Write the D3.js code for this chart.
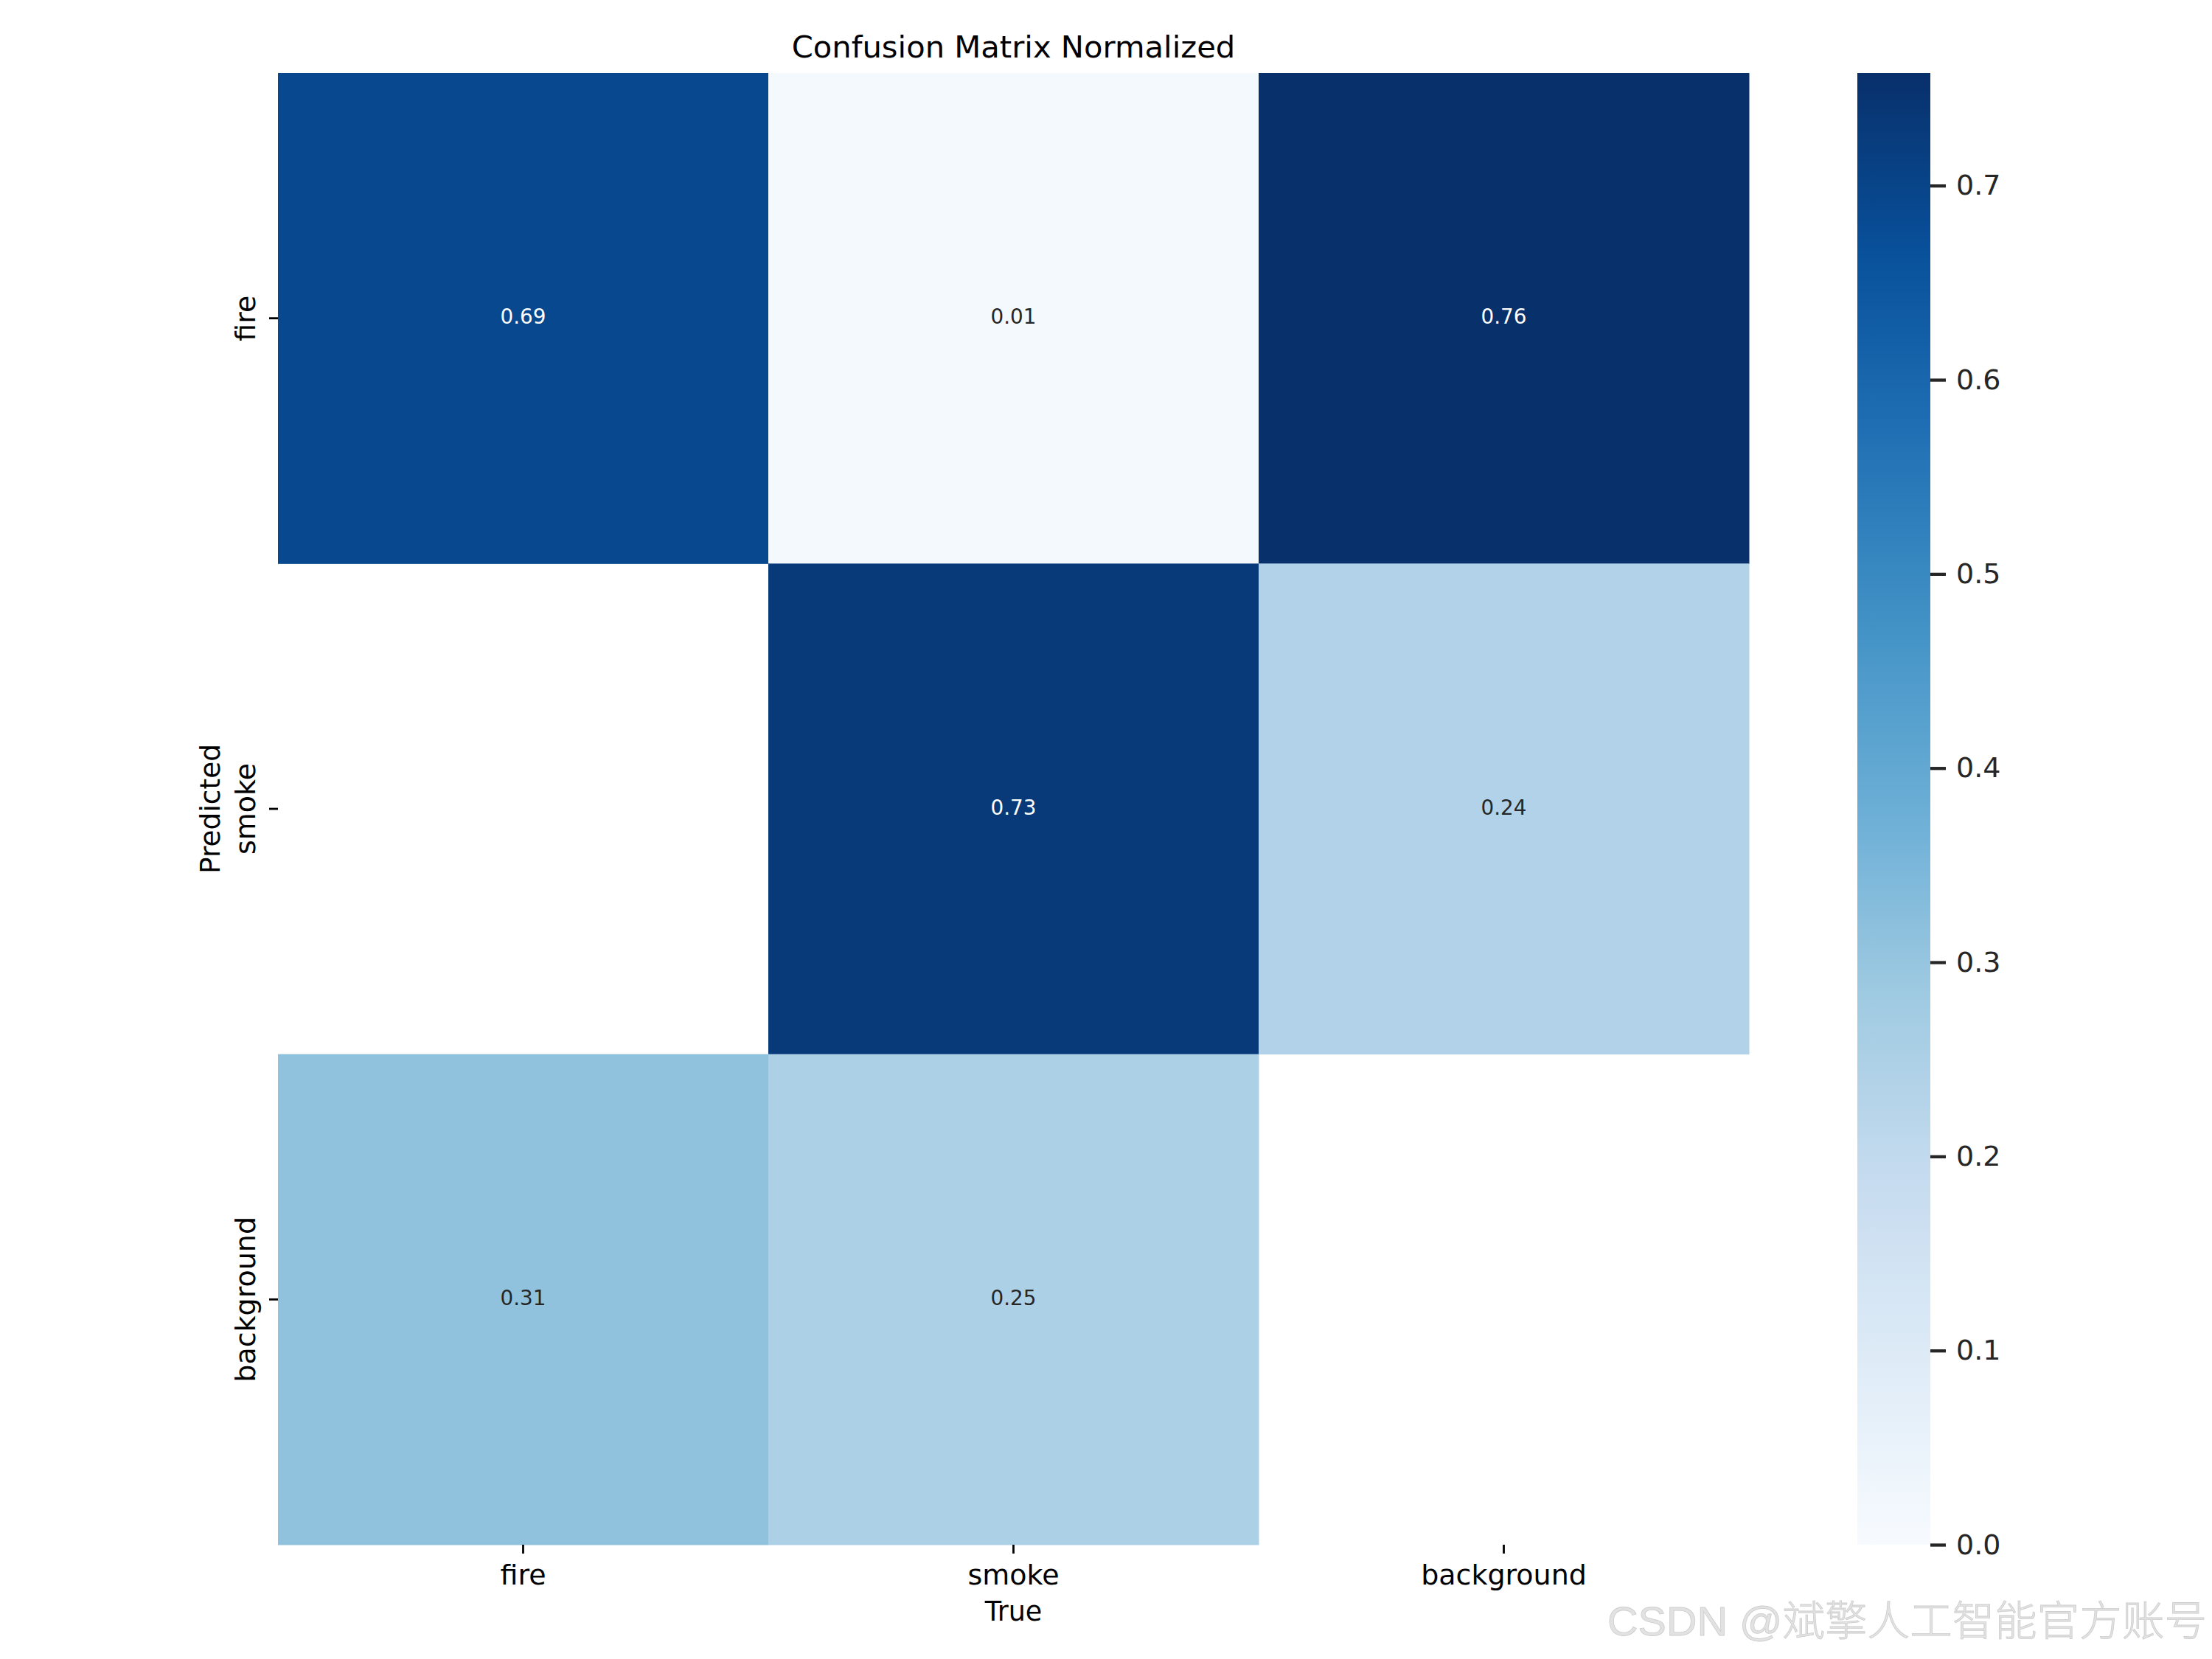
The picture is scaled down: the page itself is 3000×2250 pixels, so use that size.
<!DOCTYPE html>
<html>
<head>
<meta charset="utf-8">
<script src="https://cdn.jsdelivr.net/npm/d3@7"></script>
<style>
  body { margin: 0; background: #fff; }
  svg { display: block; }
</style>
</head>
<body>
<script>
// classes shared by both axes (rows = predicted, columns = true)
const classes = ["fire", "smoke", "background"];

// one row per predicted class, null = masked (drawn blank)
const predFire = [0.69, 0.01, 0.758];
const predSmoke = [null, 0.73, 0.24];
const predBackground = [0.31, 0.25, null];

const cbarTicks = [0.0, 0.1, 0.2, 0.3, 0.4, 0.5, 0.6, 0.7];

// matplotlib "Blues" colour stops
const blues = ["#f7fbff", "#deebf7", "#c6dbef", "#9ecae1", "#6baed6",
               "#4292c6", "#2171b5", "#08519c", "#08306b"];

const w = 3000;
const h = 2250;
const font = "DejaVu Sans, Verdana, sans-serif";

const rows = [predFire, predSmoke, predBackground];
const cells = [];
rows.forEach((r, i) => {
    r.forEach((v, j) => {
        if (v !== null) cells.push({pred: classes[i], truth: classes[j], value: v});
    });
});
const vmax = d3.max(cells, (d) => d.value);

const svg = d3.select("body")
    .append("svg")
    .attr("width", w)
    .attr("height", h);

svg.append("rect").attr("width", w).attr("height", h).attr("fill", "#fff");

// scales
const xScale = d3.scaleBand().domain(classes).range([377, 2372]);
const yScale = d3.scaleBand().domain(classes).range([99, 2095]);
const color = d3.scaleLinear()
    .domain(blues.map((c, i) => vmax * i / (blues.length - 1)))
    .range(blues)
    .interpolate(d3.interpolateRgb)
    .clamp(true);
const cbarScale = d3.scaleLinear().domain([0, vmax]).range([2095, 99]);

// heatmap cells
svg.selectAll("rect.cell")
    .data(cells)
    .enter()
    .append("rect")
    .attr("class", "cell")
    .attr("x", (d) => xScale(d.truth))
    .attr("y", (d) => yScale(d.pred))
    .attr("width", xScale.bandwidth() + 0.5)
    .attr("height", yScale.bandwidth() + 0.5)
    .attr("fill", (d) => color(d.value));

// annotation colour like seaborn: white on dark cells
function lum(c) {
    const rgb = d3.rgb(c);
    const f = (v) => {
        v = v / 255;
        return v <= 0.03928 ? v / 12.92 : Math.pow((v + 0.055) / 1.055, 2.4);
    };
    return 0.2126 * f(rgb.r) + 0.7152 * f(rgb.g) + 0.0722 * f(rgb.b);
}

svg.selectAll("text.annot")
    .data(cells)
    .enter()
    .append("text")
    .attr("class", "annot")
    .attr("x", (d) => xScale(d.truth) + xScale.bandwidth() / 2)
    .attr("y", (d) => yScale(d.pred) + yScale.bandwidth() / 2 - 2)
    .attr("text-anchor", "middle")
    .attr("dominant-baseline", "central")
    .style("font-family", font)
    .style("font-size", "27.8px")
    .attr("fill", (d) => lum(color(d.value)) > 0.408 ? "#262626" : "#ffffff")
    .text((d) => d3.format(".2f")(d.value));

// x axis
const xAxis = svg.append("g")
    .attr("transform", "translate(0,2095)")
    .call(d3.axisBottom(xScale).tickSize(12).tickPadding(15));
xAxis.select(".domain").remove();
xAxis.selectAll("line").attr("stroke", "#000").attr("stroke-width", 2.8);
xAxis.selectAll("text")
    .attr("fill", "#000")
    .style("font-family", font)
    .style("font-size", "38px");

// y axis, labels rotated
const yAxis = svg.append("g")
    .attr("transform", "translate(377,0)")
    .call(d3.axisLeft(yScale).tickSize(12));
yAxis.select(".domain").remove();
yAxis.selectAll("line").attr("stroke", "#000").attr("stroke-width", 2.8);
yAxis.selectAll("text")
    .attr("x", null)
    .attr("dy", null)
    .attr("text-anchor", "middle")
    .attr("transform", "translate(-31,0) rotate(-90)")
    .attr("fill", "#000")
    .style("font-family", font)
    .style("font-size", "38px");

// colorbar
const grad = svg.append("defs")
    .append("linearGradient")
    .attr("id", "cbar")
    .attr("x1", 0).attr("y1", 1)
    .attr("x2", 0).attr("y2", 0);
grad.selectAll("stop")
    .data(d3.range(0, 1.0001, 0.02))
    .enter()
    .append("stop")
    .attr("offset", (t) => t)
    .attr("stop-color", (t) => color(t * vmax));

svg.append("rect")
    .attr("x", 2519)
    .attr("y", cbarScale(vmax))
    .attr("width", 99)
    .attr("height", cbarScale(0) - cbarScale(vmax))
    .attr("fill", "url(#cbar)");

const cAxis = svg.append("g")
    .attr("transform", "translate(2618,0)")
    .call(d3.axisRight(cbarScale)
        .tickValues(cbarTicks)
        .tickSize(21)
        .tickPadding(14)
        .tickFormat(d3.format(".1f")));
cAxis.select(".domain").remove();
cAxis.selectAll("line").attr("stroke", "#262626").attr("stroke-width", 4.3);
cAxis.selectAll("text")
    .attr("fill", "#262626")
    .style("font-family", font)
    .style("font-size", "38px");

// title and axis labels
svg.append("text")
    .attr("x", 1374.5)
    .attr("y", 78)
    .attr("text-anchor", "middle")
    .style("font-family", font)
    .style("font-size", "41.7px")
    .text("Confusion Matrix Normalized");

svg.append("text")
    .attr("x", 1374.5)
    .attr("y", 2198)
    .attr("text-anchor", "middle")
    .style("font-family", font)
    .style("font-size", "36.5px")
    .text("True");

svg.append("text")
    .attr("transform", "translate(298,1097) rotate(-90)")
    .attr("text-anchor", "middle")
    .style("font-family", font)
    .style("font-size", "37.5px")
    .text("Predicted");

// watermark
svg.append("text")
    .attr("x", 2180)
    .attr("y", 2218)
    .attr("textLength", 813)
    .attr("lengthAdjust", "spacingAndGlyphs")
    .attr("fill", "#e2e2e2")
    .attr("stroke", "#cdcdcd")
    .attr("stroke-width", 0.8)
    .style("font-family", "Liberation Sans, Noto Sans CJK SC, sans-serif")
    .style("font-weight", 300)
    .style("font-size", "56px")
    .text("CSDN @斌擎人工智能官方账号");
</script>
</body>
</html>
